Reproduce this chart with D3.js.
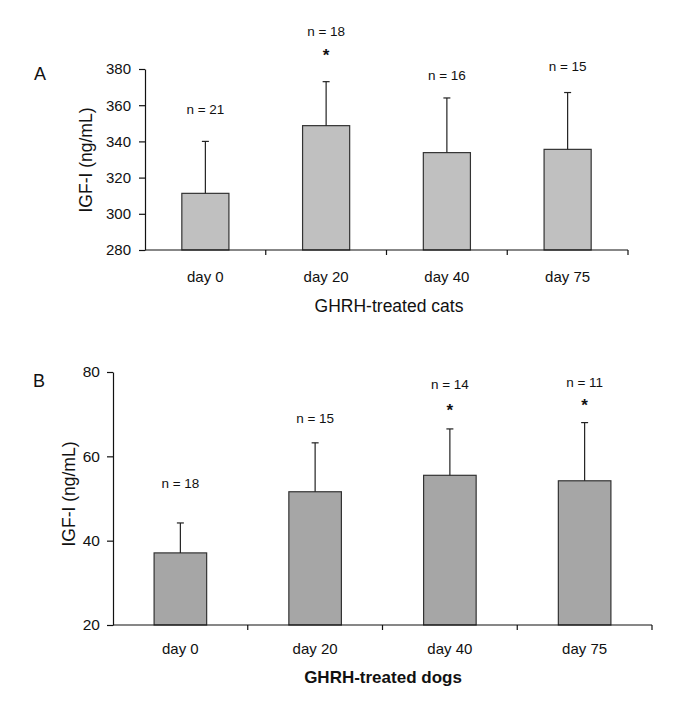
<!DOCTYPE html>
<html>
<head>
<meta charset="utf-8">
<script src="https://cdn.jsdelivr.net/npm/d3@7"></script>
<style>
  html, body { margin: 0; padding: 0; background: #fff; }
  svg { display: block; font-family: "Liberation Sans", Arial, sans-serif; }
</style>
</head>
<body>
<svg id="chart" width="685" height="706"></svg>
<script>
// ---- Data ----
const categories = ["day 0", "day 20", "day 40", "day 75"];

// Panel A: GHRH-treated cats
const catMeans = [311.3, 348.7, 333.8, 335.6];
const catErrTops = [340, 373, 364, 367];
const catN = ["n = 21", "n = 18", "n = 16", "n = 15"];
const catStars = [false, true, false, false];
const catTicks = [280, 300, 320, 340, 360, 380];

// Panel B: GHRH-treated dogs
const dogMeans = [37.1, 51.6, 55.5, 54.2];
const dogErrTops = [44.2, 63.2, 66.5, 68.0];
const dogN = ["n = 18", "n = 15", "n = 14", "n = 11"];
const dogStars = [false, false, true, true];
const dogTicks = [20, 40, 60, 80];

const svg = d3.select("#chart");

function panel(cfg) {
  const g = svg.append("g");
  const x = d3.scaleBand().domain(categories)
    .range([cfg.x0, cfg.x1]).paddingInner(0.61).paddingOuter(0.305);
  const y = d3.scaleLinear().domain(cfg.domain).range([cfg.yBottom, cfg.yTop]);

  // bars
  g.selectAll("rect.bar").data(cfg.means).join("rect")
    .attr("class", "bar")
    .attr("x", (d, i) => x(categories[i]))
    .attr("width", x.bandwidth())
    .attr("y", d => y(d))
    .attr("height", d => y(cfg.domain[0]) - y(d))
    .attr("fill", cfg.fill)
    .attr("stroke", "#333")
    .attr("stroke-width", 1.2);

  // error bars
  const cx = i => x(categories[i]) + x.bandwidth() / 2;
  g.selectAll("line.err").data(cfg.errTops).join("line")
    .attr("x1", (d, i) => cx(i)).attr("x2", (d, i) => cx(i))
    .attr("y1", (d, i) => y(cfg.means[i])).attr("y2", d => y(d))
    .attr("stroke", "#222").attr("stroke-width", 1.2);
  g.selectAll("line.cap").data(cfg.errTops).join("line")
    .attr("x1", (d, i) => cx(i) - 3.5).attr("x2", (d, i) => cx(i) + 3.5)
    .attr("y1", d => y(d)).attr("y2", d => y(d))
    .attr("stroke", "#222").attr("stroke-width", 1.2);

  // y axis
  const yAxis = d3.axisLeft(y).tickValues(cfg.ticks).tickSize(6).tickSizeOuter(0).tickPadding(cfg.tickPad);
  const ya = g.append("g").attr("transform", `translate(${cfg.x0},0)`).call(yAxis);
  ya.select(".domain").attr("stroke", "#111").attr("stroke-width", 1.2);
  ya.selectAll(".tick line").attr("stroke", "#111").attr("stroke-width", 1.2);
  ya.selectAll(".tick text").attr("font-size", cfg.tickFont).attr("fill", "#111")
    .attr("font-family", "Liberation Sans, Arial, sans-serif");

  // x axis baseline
  g.append("line")
    .attr("x1", cfg.x0).attr("x2", cfg.x1)
    .attr("y1", y(cfg.domain[0])).attr("y2", y(cfg.domain[0]))
    .attr("stroke", "#111").attr("stroke-width", 1.2);
  // category boundary ticks
  g.selectAll("line.xt").data(categories).join("line")
    .attr("x1", d => x(d) + x.bandwidth() + x.step() * x.paddingInner() / 2)
    .attr("x2", d => x(d) + x.bandwidth() + x.step() * x.paddingInner() / 2)
    .attr("y1", y(cfg.domain[0])).attr("y2", y(cfg.domain[0]) + 5)
    .attr("stroke", "#111").attr("stroke-width", 1.2);

  // x labels
  g.selectAll("text.xl").data(categories).join("text")
    .attr("x", d => x(d) + x.bandwidth() / 2)
    .attr("y", cfg.xLabelY)
    .attr("text-anchor", "middle")
    .attr("font-size", cfg.xFont).attr("fill", "#111")
    .text(d => d);

  // n labels and stars
  g.selectAll("text.n").data(cfg.nLabels).join("text")
    .attr("x", (d, i) => cx(i))
    .attr("y", (d, i) => cfg.nY[i])
    .attr("text-anchor", "middle")
    .attr("font-size", 13.5).attr("fill", "#111")
    .text(d => d);
  g.selectAll("text.star").data(cfg.stars.map((s, i) => ({ s, i })).filter(d => d.s)).join("text")
    .attr("x", d => cx(d.i))
    .attr("y", d => cfg.starY[d.i])
    .attr("text-anchor", "middle")
    .attr("font-size", 17).attr("font-weight", "bold").attr("fill", "#111")
    .text("*");

  // axis title
  g.append("text")
    .attr("x", cfg.titleX).attr("y", cfg.titleY)
    .attr("text-anchor", "middle")
    .attr("font-size", cfg.titleFont)
    .attr("font-weight", cfg.titleBold ? "bold" : "normal")
    .attr("fill", "#111")
    .text(cfg.title);

  // y title
  g.append("text")
    .attr("transform", `translate(${cfg.yTitleX},${cfg.yTitleY}) rotate(-90)`)
    .attr("text-anchor", "middle")
    .attr("dominant-baseline", "middle")
    .attr("font-size", cfg.yTitleFont).attr("fill", "#111")
    .text("IGF-I (ng/mL)");

  // panel letter
  g.append("text")
    .attr("x", cfg.letterX).attr("y", cfg.letterY)
    .attr("font-size", 18).attr("fill", "#111")
    .text(cfg.letter);
}

panel({
  letter: "A", letterX: 34, letterY: 80,
  means: catMeans, errTops: catErrTops, nLabels: catN, stars: catStars, ticks: catTicks,
  domain: [280, 380], x0: 145, x1: 628, yTop: 69, yBottom: 250,
  fill: "#c0c0c0",
  tickFont: 15, tickPad: 8, xFont: 15, xLabelY: 282,
  nY: [114, 36, 80, 71], starY: [0, 61, 0, 0],
  title: "GHRH-treated cats", titleX: 389, titleY: 312, titleFont: 17.5, titleBold: false,
  yTitleX: 87, yTitleY: 160, yTitleFont: 17.5
});

panel({
  letter: "B", letterX: 33, letterY: 387,
  means: dogMeans, errTops: dogErrTops, nLabels: dogN, stars: dogStars, ticks: dogTicks,
  domain: [20, 80], x0: 113, x1: 652, yTop: 372, yBottom: 625,
  fill: "#a6a6a6",
  tickFont: 15.5, tickPad: 7, xFont: 15, xLabelY: 654,
  nY: [488, 423, 389, 387], starY: [0, 0, 416, 411],
  title: "GHRH-treated dogs", titleX: 383, titleY: 683, titleFont: 17, titleBold: true,
  yTitleX: 70, yTitleY: 494, yTitleFont: 17.5
});
</script>
</body>
</html>
